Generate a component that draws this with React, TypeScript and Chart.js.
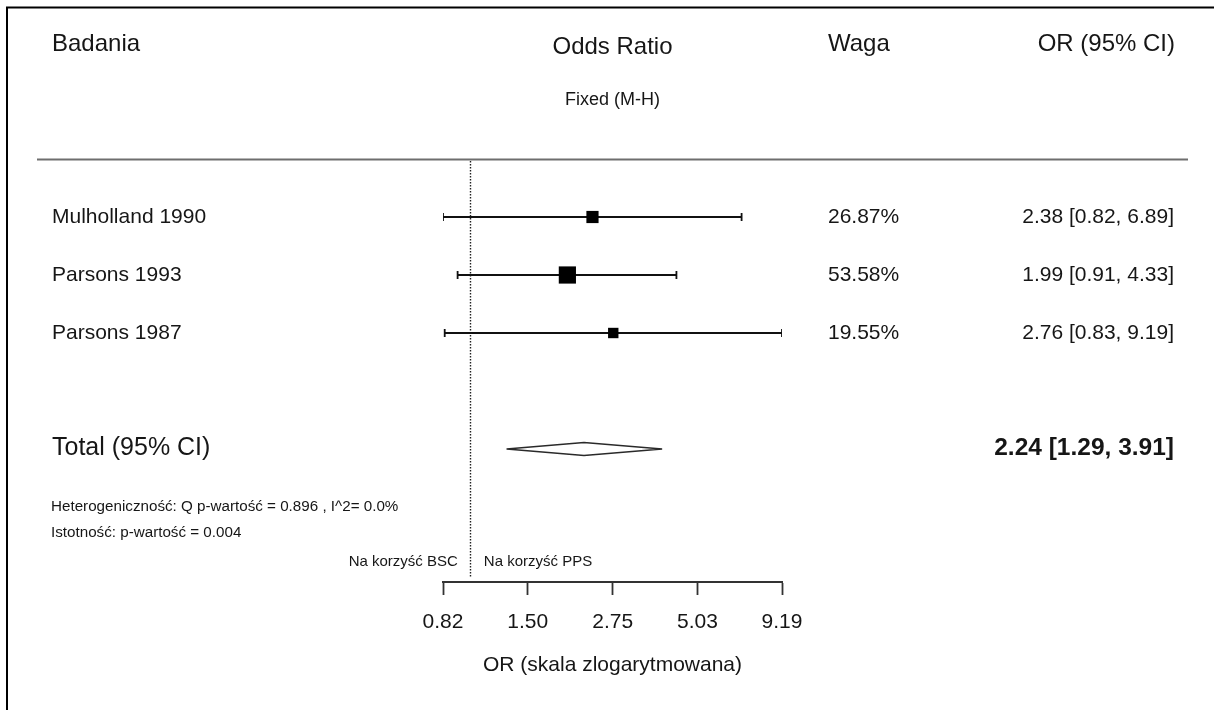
import React, { useEffect, useRef } from "react";
import { Chart, registerables } from "chart.js";

Chart.register(...registerables);

// ---------- data ----------
const studies = ["Mulholland 1990", "Parsons 1993", "Parsons 1987"];
const oddsRatios = [2.38, 1.99, 2.76];
const ciLower = [0.82, 0.91, 0.83];
const ciUpper = [6.89, 4.33, 9.19];
const weights = [26.87, 53.58, 19.55];

const totalLabel = "Total (95% CI)";
const totalOR = 2.24;
const totalLower = 1.29;
const totalUpper = 3.91;

const xTickValues = [0.82, 1.5, 2.75, 5.03, 9.19];
const xMin = 0.82;
const xMax = 9.19;
const nullValue = 1;

const headerStudy = "Badania";
const headerPlot = "Odds Ratio";
const headerMethod = "Fixed (M-H)";
const headerWeight = "Waga";
const headerCI = "OR (95% CI)";
const axisTitle = "OR (skala zlogarytmowana)";
const heterogeneityText = "Heterogeniczność: Q p-wartość = 0.896 , I^2= 0.0%";
const significanceText = "Istotność: p-wartość = 0.004";
const favoursLeft = "Na korzyść BSC";
const favoursRight = "Na korzyść PPS";

// ---------- style ----------
const FONT = "'Liberation Sans', Arial, Helvetica, sans-serif";
const TEXT = "#161616";
const INK = "#111111";

const fmt = (v: number) => v.toFixed(2);
const ciText = (o: number, l: number, u: number) => `${fmt(o)} [${fmt(l)}, ${fmt(u)}]`;

const studyRows = studies.map((_, i) => i + 1);
const totalRow = studies.length + 2;

function squareRadius(w: number) {
  // square side ~ proportional to sqrt(weight); 'rect' side = sqrt(2)*radius
  const side = 2.35 * Math.sqrt(w);
  return side / Math.SQRT2;
}

function txt(
  ctx: CanvasRenderingContext2D,
  s: string,
  x: number,
  y: number,
  size: number,
  align: CanvasTextAlign = "left",
  bold = false
) {
  ctx.font = `${bold ? "bold " : ""}${size}px ${FONT}`;
  ctx.textAlign = align;
  ctx.textBaseline = "middle";
  ctx.fillStyle = TEXT;
  ctx.fillText(s, x, y);
}

const overlay = {
  id: "forestOverlay",
  beforeDatasetsDraw(chart: any) {
    const { ctx, scales } = chart;
    const xs = scales.x;
    ctx.save();
    // outer frame (left + top)
    ctx.strokeStyle = "#000";
    ctx.lineWidth = 2;
    ctx.beginPath();
    ctx.moveTo(7, 710);
    ctx.lineTo(7, 7.5);
    ctx.lineTo(1214, 7.5);
    ctx.stroke();
    // header separator
    ctx.strokeStyle = "#6e6e6e";
    ctx.lineWidth = 2;
    ctx.beginPath();
    ctx.moveTo(37, 159.5);
    ctx.lineTo(1188, 159.5);
    ctx.stroke();
    // null line (dotted)
    const x1 = Math.round(xs.getPixelForValue(nullValue)) - 0.5;
    ctx.strokeStyle = "#222";
    ctx.lineWidth = 1.4;
    ctx.setLineDash([1.6, 1.4]);
    ctx.beginPath();
    ctx.moveTo(x1, 161);
    ctx.lineTo(x1, 577);
    ctx.stroke();
    ctx.setLineDash([]);
    ctx.restore();
  },
  afterDatasetsDraw(chart: any) {
    const { ctx, scales } = chart;
    const xs = scales.x;
    const ys = scales.y;
    ctx.save();

    // summary diamond
    const yT = ys.getPixelForValue(totalRow);
    const xl = xs.getPixelForValue(totalLower);
    const xe = xs.getPixelForValue(totalOR);
    const xu = xs.getPixelForValue(totalUpper);
    ctx.beginPath();
    ctx.moveTo(xl, yT);
    ctx.lineTo(xe, yT - 6.5);
    ctx.lineTo(xu, yT);
    ctx.lineTo(xe, yT + 6.5);
    ctx.closePath();
    ctx.fillStyle = "#fff";
    ctx.fill();
    ctx.strokeStyle = "#2a2a2a";
    ctx.lineWidth = 1.6;
    ctx.stroke();

    // header texts
    txt(ctx, headerStudy, 52, 44, 24);
    const xc = (chart.chartArea.left + chart.chartArea.right) / 2;
    txt(ctx, headerPlot, xc, 47, 24, "center");
    txt(ctx, headerMethod, xc, 100, 18, "center");
    txt(ctx, headerWeight, 828, 44, 24);
    txt(ctx, headerCI, 1175, 44, 24, "right");

    // study rows
    studies.forEach((s, i) => {
      const y = ys.getPixelForValue(studyRows[i]);
      txt(ctx, s, 52, y, 21);
      txt(ctx, `${weights[i].toFixed(2)}%`, 828, y, 21);
      txt(ctx, ciText(oddsRatios[i], ciLower[i], ciUpper[i]), 1174, y, 21, "right");
    });

    // total row
    txt(ctx, totalLabel, 52, yT - 1, 25);
    txt(ctx, ciText(totalOR, totalLower, totalUpper), 1174, yT - 1, 24.5, "right", true);

    // statistics
    txt(ctx, heterogeneityText, 51, 507, 15.2);
    txt(ctx, significanceText, 51, 533, 15.2);

    // favours labels around the null line
    const xn = xs.getPixelForValue(nullValue);
    txt(ctx, favoursLeft, xn - 13, 562, 15, "right");
    txt(ctx, favoursRight, xn + 13, 562, 15, "left");

    ctx.restore();
  },
};

export default function App() {
  const ref = useRef<HTMLCanvasElement | null>(null);

  useEffect(() => {
    const canvas = ref.current;
    if (!canvas) return;

    const whiskerSets = studies.map((_, i) => ({
      type: "line" as const,
      label: `ci-${i}`,
      data: [
        { x: ciLower[i], y: studyRows[i] },
        { x: ciUpper[i], y: studyRows[i] },
      ],
      borderColor: INK,
      borderWidth: 1.8,
      showLine: true,
      pointStyle: "line" as const,
      rotation: 90,
      pointRadius: 4,
      pointBorderWidth: 1.8,
      pointBorderColor: INK,
      pointBackgroundColor: INK,
      order: 2,
    }));

    const squares = {
      type: "scatter" as const,
      label: "OR",
      data: studies.map((_, i) => ({ x: oddsRatios[i], y: studyRows[i] })),
      pointStyle: "rect" as const,
      pointRadius: weights.map((w) => squareRadius(w)),
      backgroundColor: "#000",
      borderColor: "#000",
      borderWidth: 0,
      order: 1,
    };

    const chart = new Chart(canvas, {
      type: "scatter",
      data: { datasets: [...whiskerSets, squares] as any },
      options: {
        animation: false,
        responsive: false,
        events: [],
        layout: { padding: { left: 443, right: 432, top: 159, bottom: 0 } },
        plugins: {
          legend: { display: false },
          tooltip: { enabled: false },
          title: { display: false },
        },
        scales: {
          x: {
            type: "logarithmic",
            position: "bottom",
            min: xMin,
            max: xMax,
            afterBuildTicks: (s: any) => {
              s.ticks = xTickValues.map((v) => ({ value: v }));
            },
            afterFit: (s: any) => {
              s.height = 128;
            },
            grid: {
              display: true,
              drawOnChartArea: false,
              drawTicks: true,
              tickLength: 13,
              tickWidth: 1.8,
              tickColor: "#333",
            },
            border: { display: true, color: "#333", width: 2 },
            ticks: {
              autoSkip: false,
              maxRotation: 0,
              minRotation: 0,
              padding: 15,
              color: TEXT,
              font: { family: FONT, size: 21 },
              callback: (v: any) => Number(v).toFixed(2),
            },
            title: {
              display: true,
              text: axisTitle,
              color: TEXT,
              font: { family: FONT, size: 21 },
              padding: { top: 0, bottom: 32 },
            },
          },
          y: {
            type: "linear",
            display: false,
            reverse: true,
            min: 0,
            max: 423 / 58,
          },
        },
      },
      plugins: [overlay],
    });

    return () => chart.destroy();
  }, []);

  return (
    <div style={{ position: "fixed", left: 0, top: 0, width: 1214, height: 710, background: "#fff" }}>
      <canvas ref={ref} width={1214} height={710} style={{ display: "block", width: 1214, height: 710 }} />
    </div>
  );
}
